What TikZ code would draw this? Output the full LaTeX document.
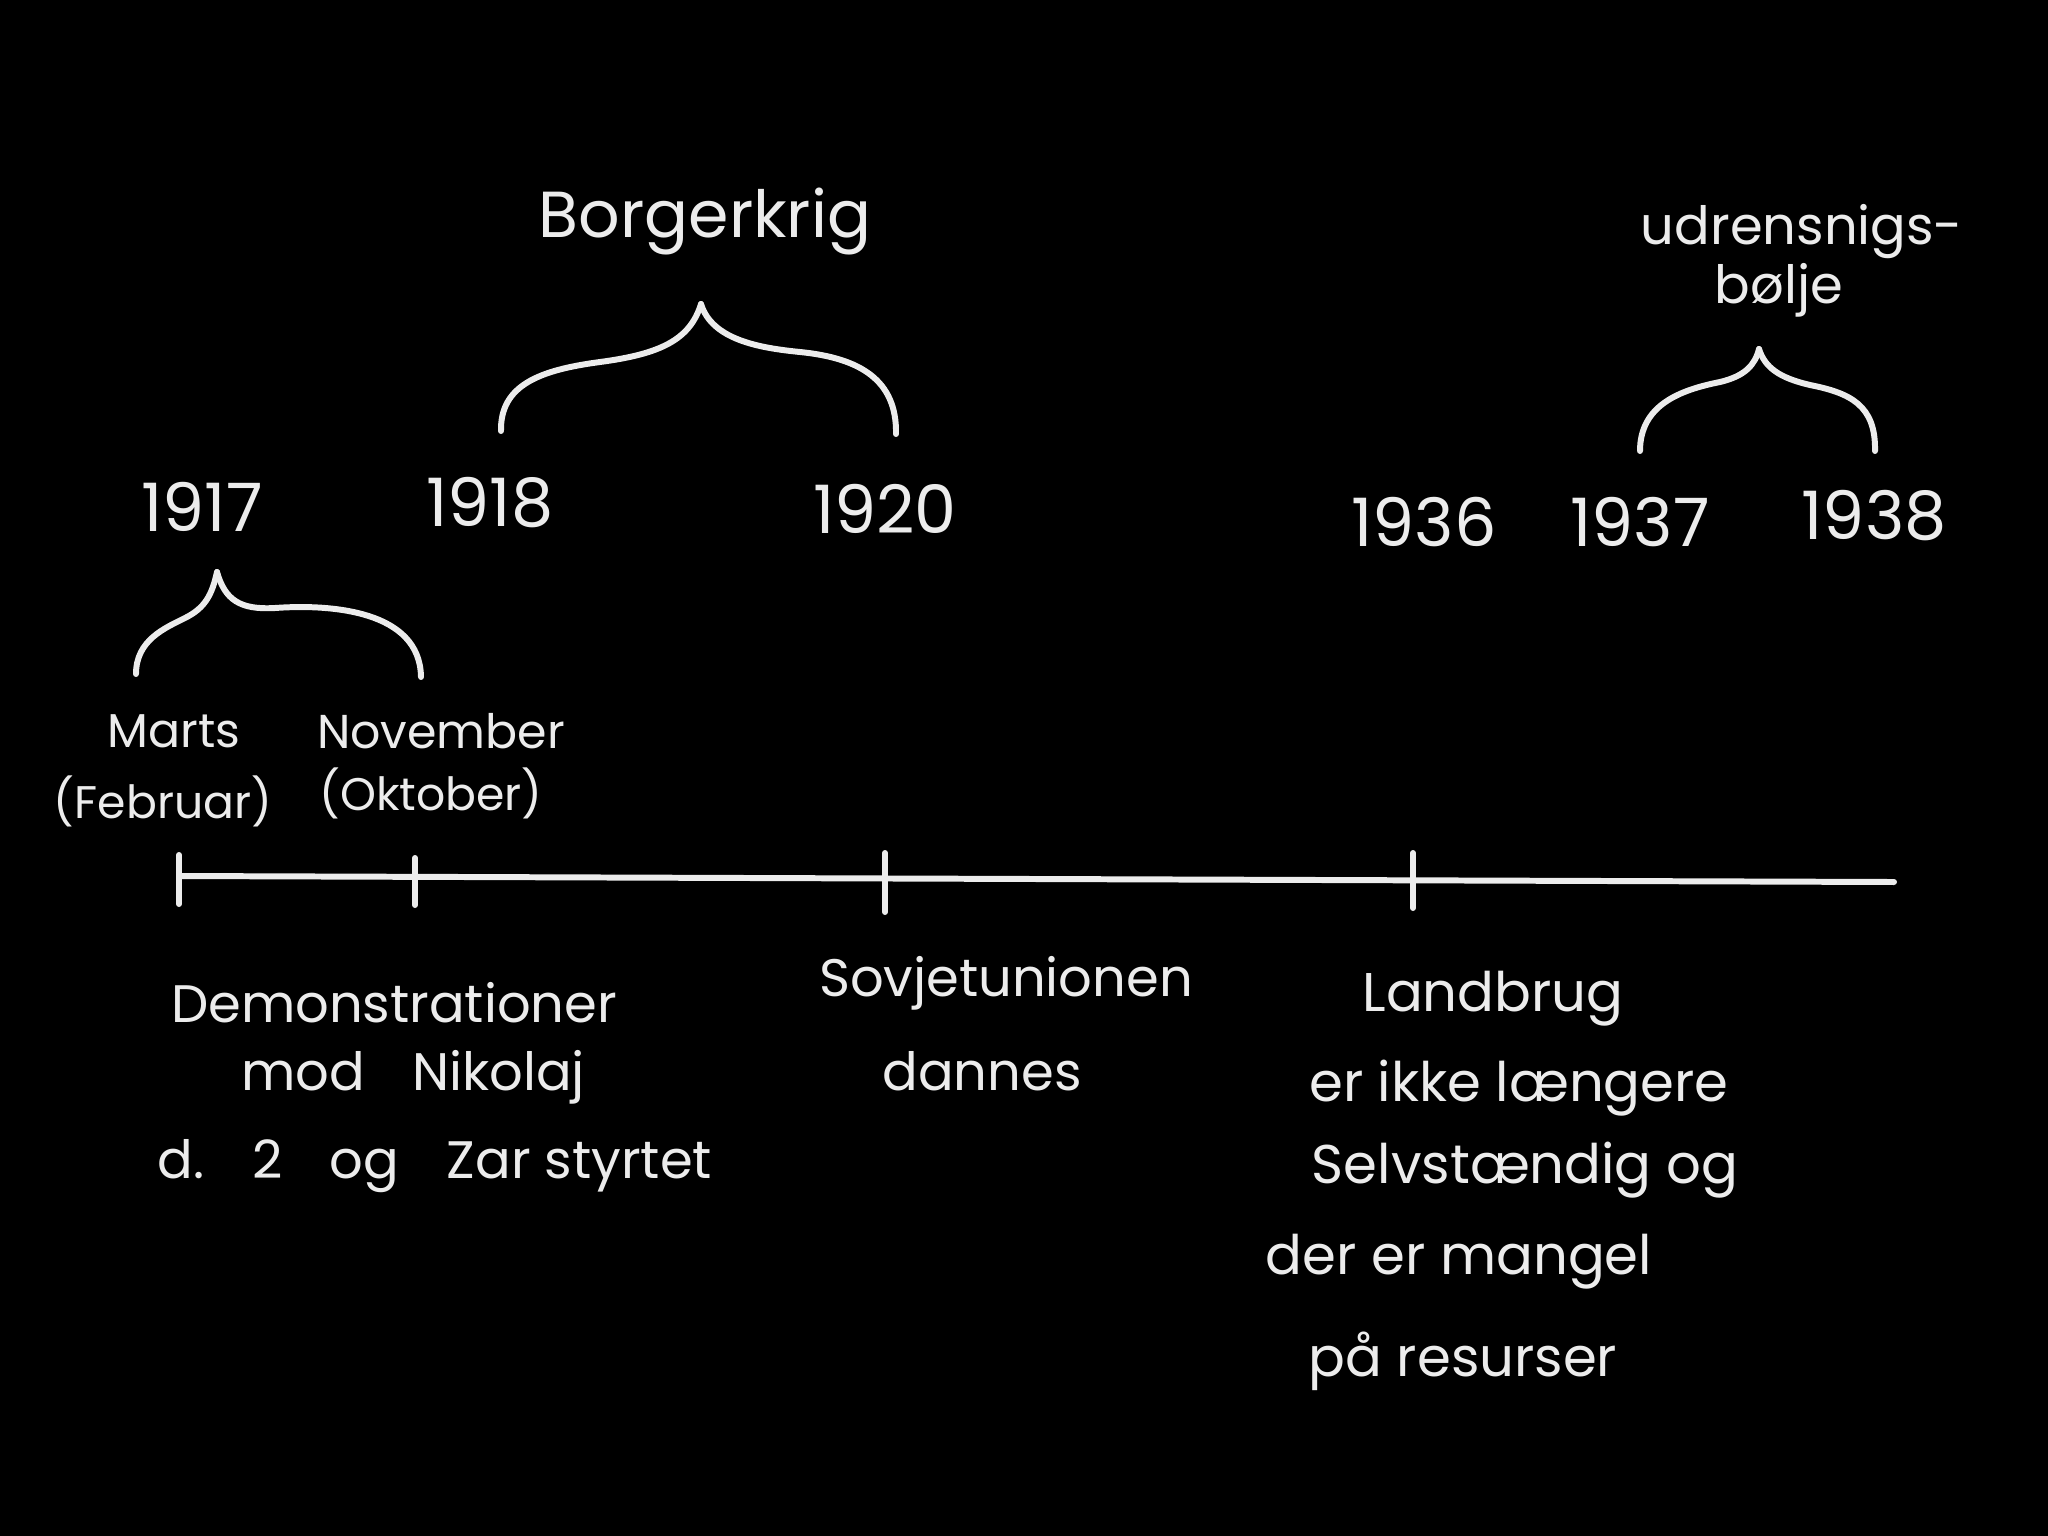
\documentclass[tikz,border=0pt]{standalone}
\usepackage{fontspec}
\setmainfont{Poppins}
\usetikzlibrary{positioning}
\definecolor{chalk}{RGB}{236,236,236}

\tikzset{
    yearlabel/.style={text=chalk, inner sep=0pt, font=\fontsize{19}{22}\selectfont},
    eventlabel/.style={text=chalk, inner sep=0pt, font=\fontsize{15}{18}\selectfont},
    monthlabel/.style={text=chalk, inner sep=0pt, font=\fontsize{13.5}{16}\selectfont},
    chalkline/.style={draw=chalk, line width=1.7pt, line cap=round},
}

\begin{document}
\begin{tikzpicture}[x=0.01cm, y=-0.01cm]
    % Board
    \fill[black] (0,0) rectangle (2048,1536);
    \useasboundingbox (0,0) rectangle (2048,1536);

    % Timeline and ticks
    \coordinate (tl-start) at (179,876);
    \coordinate (tl-end) at (1894,882);
    \draw[chalkline] (tl-start) -- (tl-end);
    \draw[chalkline] (179,855) -- (179,904);
    \draw[chalkline] (415,858) -- (415,905);
    \draw[chalkline] (885,853) -- (885,912);
    \draw[chalkline] (1413,853) -- (1413,908);

    % Years
    \node[yearlabel] (y1917) at (202,507) {1917};
    \node[yearlabel] (y1918) at (490,503) {1918};
    \node[yearlabel] (y1920) at (885,509) {1920};
    \node[yearlabel] (y1936) at (1424,522) {1936};
    \node[yearlabel] (y1937) at (1640,522) {1937};
    \node[yearlabel] (y1938) at (1874,516) {1938};

    % Borgerkrig brace
    \node[eventlabel, font=\fontsize{18.5}{21}\selectfont] (civilwar) at (705,222) {Borgerkrig};
    \coordinate (bk-l) at (501,431);
    \coordinate (bk-tip) at (701,304);
    \coordinate (bk-r) at (896,434);
    \draw[chalkline] (bk-l) .. controls (500,385) and (540,370) .. (600,362)
        .. controls (660,354) and (690,340) .. (bk-tip);
    \draw[chalkline] (bk-tip) .. controls (712,340) and (760,348) .. (800,352)
        .. controls (860,358) and (897,380) .. (bk-r);

    % Udrensning brace
    \node[eventlabel] (purge1) at (1802,232) {udrensnigs-};
    \node[eventlabel] (purge2) at (1779,290) {bølje};
    \coordinate (ud-l) at (1640,451);
    \coordinate (ud-tip) at (1759,349);
    \coordinate (ud-r) at (1875,451);
    \draw[chalkline] (ud-l) .. controls (1640,405) and (1680,390) .. (1720,382)
        .. controls (1745,376) and (1755,365) .. (ud-tip);
    \draw[chalkline] (ud-tip) .. controls (1765,368) and (1780,378) .. (1810,385)
        .. controls (1850,393) and (1876,405) .. (ud-r);

    % 1917 brace
    \coordinate (rev-l) at (136,674);
    \coordinate (rev-tip) at (217,572);
    \coordinate (rev-r) at (421,677);
    \draw[chalkline] (rev-l) .. controls (136,640) and (165,628) .. (185,618)
        .. controls (205,608) and (212,595) .. (rev-tip);
    \draw[chalkline] (rev-tip) .. controls (225,600) and (240,610) .. (275,608)
        .. controls (330,604) and (420,610) .. (rev-r);

    % Months
    \node[monthlabel] (march) at (174,731) {Marts};
    \node[monthlabel] (nov) at (441,731) {November};
    \node[monthlabel, font=\fontsize{13}{15}\selectfont] (feb) at (163,801) {(Februar)};
    \node[monthlabel, font=\fontsize{13}{15}\selectfont] (oct) at (431,793) {(Oktober)};

    % Events below the line
    \node[eventlabel] (demo1) at (394,1003) {Demonstrationer};
    \node[eventlabel] (demo2) at (413,1077) {mod\hspace{0.9em}Nikolaj};
    \node[eventlabel] (demo3) at (435,1166) {d.\hspace{0.9em}2\hspace{0.9em}og\hspace{0.9em}Zar styrtet};

    \node[eventlabel] (ussr1) at (1006,983) {Sovjetunionen};
    \node[eventlabel] (ussr2) at (982,1071) {dannes};

    \node[eventlabel, font=\fontsize{15.5}{18}\selectfont] (land1) at (1493,999) {Landbrug};
    \node[eventlabel, font=\fontsize{15.5}{18}\selectfont] (land2) at (1519,1088) {er ikke længere};
    \node[eventlabel, font=\fontsize{15.5}{18}\selectfont] (land3) at (1525,1170) {Selvstændig og};
    \node[eventlabel, font=\fontsize{15.5}{18}\selectfont] (land4) at (1459,1262) {der er mangel};
    \node[eventlabel, font=\fontsize{15.5}{18}\selectfont] (land5) at (1463,1361) {på resurser};
\end{tikzpicture}
\end{document}
